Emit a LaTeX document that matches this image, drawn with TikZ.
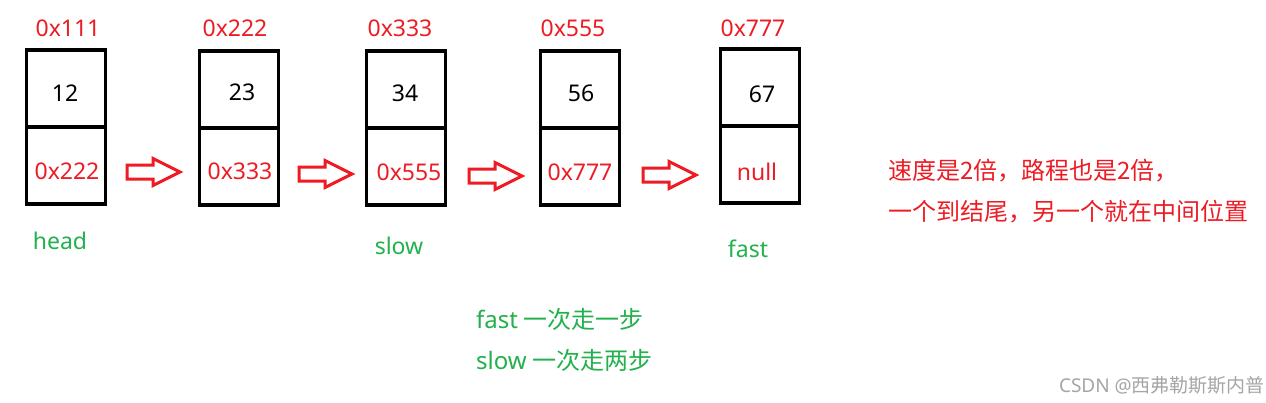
\documentclass[tikz,border=0pt]{standalone}
\usepackage{fontspec}
\setmainfont{Noto Sans}
\newfontfamily\cjk{Noto Sans CJK SC}
\definecolor{pred}{RGB}{237,28,36}
\definecolor{pgreen}{RGB}{34,177,76}
\definecolor{wm}{RGB}{165,165,165}
\begin{document}
\begin{tikzpicture}[x=1pt,y=-1pt,
  cell/.style={draw=black,line width=3.5pt,minimum width=79pt,minimum height=77pt,inner sep=0pt,outer sep=0pt},
  txt/.style={inner sep=0pt,font=\fontsize{23}{28}\selectfont},
  addr/.style={txt,text=pred},
  num/.style={txt,text=black},
  ptr/.style={txt,text=pred},
  tag/.style={txt,text=pgreen},
  note/.style={inner sep=0pt,anchor=west,font=\cjk\fontsize{24}{28}\selectfont},
  barrow/.pic={\draw[draw=pred,line width=3pt,line join=miter]
     (0,-7) -- (26,-7) -- (26,-13.5) -- (53,0) -- (26,13.5) -- (26,7) -- (0,7) -- cycle;}]
\useasboundingbox (0,0) rectangle (1266,402);
\fill[white] (0,0) rectangle (1266,402);

% node boxes
\node[cell] (d1) at (66,88.5) {};  \node[cell] (p1) at (66,165.5) {};
\node[cell] (d2) at (239,89.5) {}; \node[cell] (p2) at (239,166.5) {};
\node[cell] (d3) at (406,89.5) {}; \node[cell] (p3) at (406,166.5) {};
\node[cell] (d4) at (580,89.5) {}; \node[cell] (p4) at (580,166.5) {};
\node[cell] (d5) at (760,87.5) {}; \node[cell] (p5) at (760,164.5) {};

% values
\node[num] (v1) at (65,93) {12};
\node[num] (v2) at (242,92) {23};
\node[num] (v3) at (405,93) {34};
\node[num] (v4) at (581,93) {56};
\node[num] (v5) at (762,94) {67};

% pointers
\node[ptr] (n1) at (67,171) {0x222};
\node[ptr] (n2) at (240,171) {0x333};
\node[ptr] (n3) at (409,172) {0x555};
\node[ptr] (n4) at (580,172) {0x777};
\node[ptr] (n5) at (757,172) {null};

% addresses
\node[addr] (a1) at (68,28) {0x111};
\node[addr] (a2) at (235,28) {0x222};
\node[addr] (a3) at (400,28) {0x333};
\node[addr] (a4) at (573,28) {0x555};
\node[addr] (a5) at (753,28) {0x777};

% block arrows
\pic at (127,172) {barrow};
\pic at (299,174) {barrow};
\pic at (469,176) {barrow};
\pic at (643,175) {barrow};

% pointer names
\node[tag] (head) at (60,241) {head};
\node[tag] (slow) at (399,246) {slow};
\node[tag] (fast) at (748,249) {fast};

% notes
\node[note,text=pred] (r1) at (888,171) {速度是2倍，路程也是2倍，};
\node[note,text=pred] (r2) at (888,212) {一个到结尾，另一个就在中间位置};
\node[note,text=pgreen] (g1) at (476,319) {{\fontspec{Noto Sans}fast} 一次走一步};
\node[note,text=pgreen] (g2) at (476,360) {{\fontspec{Noto Sans}slow} 一次走两步};
\node[inner sep=0pt,anchor=east,text=wm,font=\cjk\fontsize{19}{24}\selectfont] (wmk) at (1265,385) {{\fontspec{Noto Sans}CSDN @}西弗勒斯斯内普};
\end{tikzpicture}
\end{document}
